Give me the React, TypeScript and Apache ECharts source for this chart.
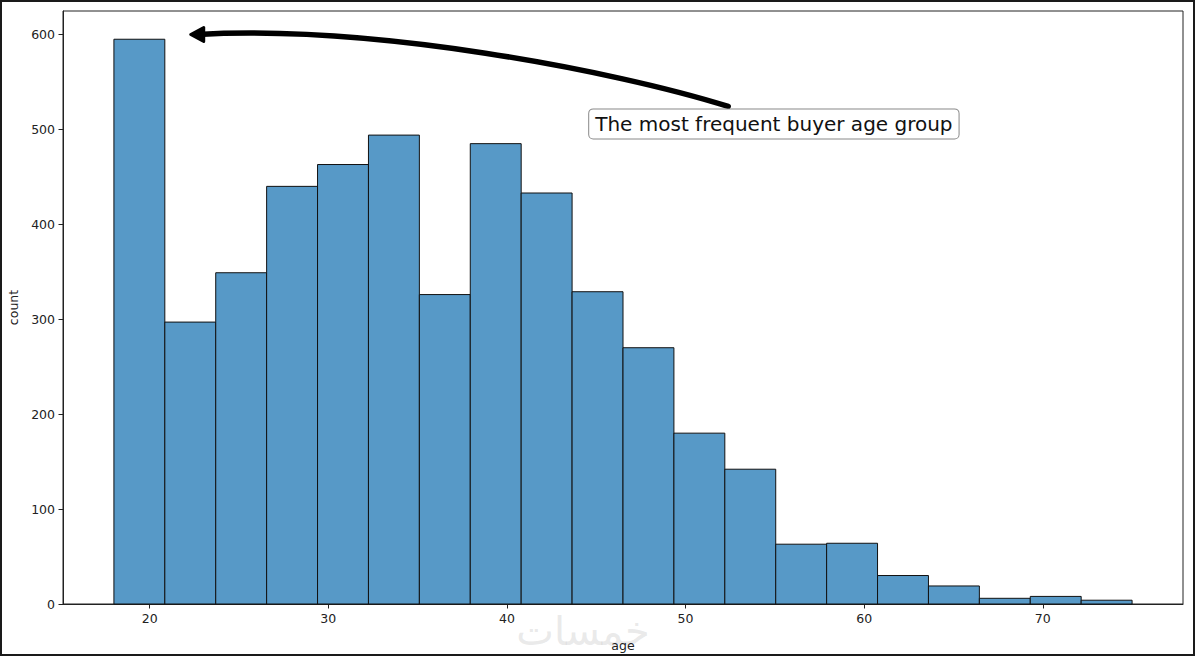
import React, { useEffect, useRef } from "react";
import * as echarts from "echarts";

// Histogram of buyer ages
const ageMin = 18;
const ageMax = 75;
const counts = [595, 297, 349, 440, 463, 494, 326, 485, 433, 329, 270, 180, 142, 63, 64, 30, 19, 6, 8, 4];
const xTicks = [20, 30, 40, 50, 60, 70];
const yTicks = [0, 100, 200, 300, 400, 500, 600];
const annotationText = "The most frequent buyer age group";
const arrowTip = [22.3, 600];
const textAnchor = [45, 500];
const watermark = "خمسات";

const FONT = "'DejaVu Sans', sans-serif";

export default function App() {
  const ref = useRef<HTMLDivElement>(null);

  useEffect(() => {
    if (!ref.current) return;
    const chart = echarts.init(ref.current, undefined, { renderer: "svg" });
    const binWidth = (ageMax - ageMin) / counts.length;
    const bins = counts.map((c, i) => [ageMin + i * binWidth, ageMin + (i + 1) * binWidth, c]);
    const margin = (ageMax - ageMin) * 0.05;
    const yMax = Math.max(...counts) * 1.05;

    chart.setOption({
      animation: false,
      grid: {
        left: 63,
        right: 12,
        top: 11,
        bottom: 53,
        containLabel: false,
        outerBoundsMode: "none",
        show: true,
        borderColor: "#222",
        borderWidth: 1,
        backgroundColor: "transparent",
      },
      xAxis: {
        type: "value",
        min: ageMin - margin,
        max: ageMax + margin,
        name: "age",
        nameLocation: "middle",
        nameGap: 35,
        nameTextStyle: { color: "#222", fontSize: 12.5, fontFamily: FONT },
        splitLine: { show: false },
        axisLine: { show: true, onZero: false, lineStyle: { color: "#222", width: 1 } },
        axisTick: { show: true, length: 4.5, customValues: xTicks, lineStyle: { color: "#222" } },
        axisLabel: {
          customValues: xTicks,
          margin: 8,
          color: "#222",
          fontSize: 12.5,
          fontFamily: FONT,
        },
      },
      yAxis: {
        type: "value",
        min: 0,
        max: yMax,
        name: "count",
        nameLocation: "middle",
        nameGap: 41,
        nameRotate: 90,
        nameTextStyle: { color: "#222", fontSize: 12.5, fontFamily: FONT },
        splitLine: { show: false },
        axisLine: { show: true, lineStyle: { color: "#222", width: 1 } },
        axisTick: { show: true, length: 4.5, customValues: yTicks, lineStyle: { color: "#222" } },
        axisLabel: {
          customValues: yTicks,
          margin: 8,
          color: "#222",
          fontSize: 12.5,
          fontFamily: FONT,
        },
      },
      series: [
        {
          type: "custom",
          data: bins,
          encode: { x: [0, 1], y: 2 },
          renderItem: (params: any, api: any) => {
            const p0 = api.coord([api.value(0), api.value(2)]);
            const p1 = api.coord([api.value(1), 0]);
            return {
              type: "rect",
              shape: { x: p0[0], y: p0[1], width: p1[0] - p0[0], height: p1[1] - p0[1] },
              style: { fill: "#5799c7", stroke: "#111", lineWidth: 1 },
            };
          },
        },
      ],
    });

    const tip = chart.convertToPixel({ gridIndex: 0 }, arrowTip) as number[];
    const tp = chart.convertToPixel({ gridIndex: 0 }, textAnchor) as number[];
    const boxX = tp[0] - 7;
    const boxY = tp[1] - 20;
    const sx = tp[0] + 132;
    const sy = tp[1] - 23;
    const ex = tip[0] + 7;
    const ey = tip[1];

    chart.setOption({
      graphic: [
        {
          type: "rect",
          shape: { x: 1, y: 1, width: 1193, height: 654 },
          style: { fill: "none", stroke: "#1a1a1a", lineWidth: 2 },
          silent: true,
        },
        {
          type: "text",
          x: 583,
          y: 631,
          style: {
            text: watermark,
            fontSize: 40,
            fontFamily: FONT,
            fill: "rgba(200,200,200,0.4)",
            textAlign: "center",
            textVerticalAlign: "middle",
          },
          silent: true,
          z: -1,
        },
        {
          type: "bezierCurve",
          shape: {
            x1: sx,
            y1: sy,
            cpx1: sx - 115,
            cpy1: sy - 36,
            cpx2: ex + 175,
            cpy2: ey - 10,
            x2: ex,
            y2: ey,
          },
          style: { stroke: "#000", lineWidth: 5.5, fill: "none", lineCap: "round" },
          silent: true,
        },
        {
          type: "polygon",
          shape: {
            points: [
              [tip[0], tip[1]],
              [tip[0] + 13, tip[1] - 7],
              [tip[0] + 13, tip[1] + 7],
            ],
          },
          style: { fill: "#000", stroke: "#000", lineWidth: 3, lineJoin: "round" },
          silent: true,
        },
        {
          type: "text",
          x: boxX,
          y: boxY,
          style: {
            text: annotationText,
            fontSize: 20,
            fontFamily: FONT,
            fill: "#111",
            textAlign: "left",
            textVerticalAlign: "top",
            backgroundColor: "#fff",
            borderColor: "#888",
            borderWidth: 1,
            borderRadius: 4,
            padding: [4, 6, 3, 6],
            lineHeight: 22,
          },
          silent: true,
        },
      ],
    });

    return () => chart.dispose();
  }, []);

  return (
    <div
      ref={ref}
      style={{ position: "fixed", left: 0, top: 0, width: 1195, height: 657, background: "#fff" }}
    />
  );
}
